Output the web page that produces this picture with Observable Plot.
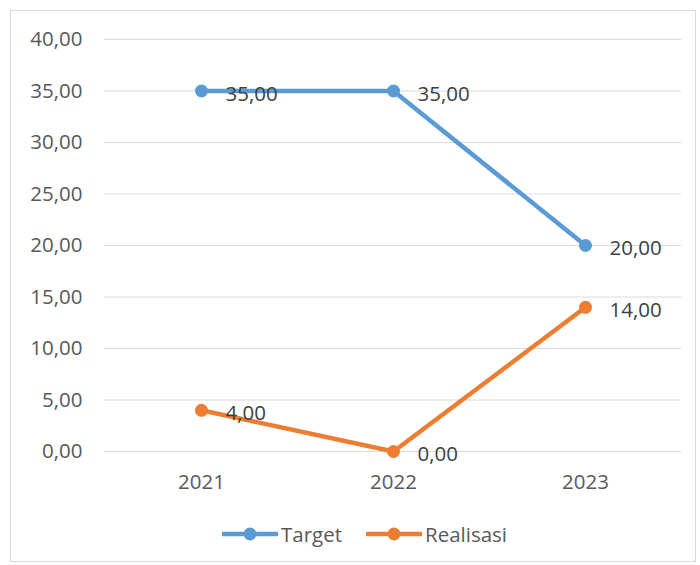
<!DOCTYPE html>
<html>
<head>
<meta charset="utf-8">
<script src="https://cdn.jsdelivr.net/npm/d3@7"></script>
<script src="https://cdn.jsdelivr.net/npm/@observablehq/plot@0.6"></script>
<style>
  html, body { margin: 0; padding: 0; background: #fff; }
  #wrap { position: relative; width: 700px; height: 565px; overflow: hidden; font-family: "Open Sans", sans-serif; }
  #border { position: absolute; left: 10px; top: 10px; width: 686px; height: 552px; border: 1px solid #d9d9d9; box-sizing: border-box; }
  #chart { position: absolute; left: 0; top: 0; }
  #legend { position: absolute; top: 520px; left: 222px; display: flex; align-items: center; font-size: 20.5px; color: #595959; }
  .item { display: flex; align-items: center; margin-right: 24px; }
  .item svg { margin-right: 3px; }
</style>
</head>
<body>
<div id="wrap">
  <div id="border"></div>
  <div id="chart"></div>
  <div id="legend"></div>
</div>
<script>
const years = ["2021", "2022", "2023"];
const target = [35, 35, 20];
const realisasi = [4, 0, 14];
const seriesNames = ["Target", "Realisasi"];
const seriesColors = ["#5B9BD5", "#ED7D31"];
const yTicks = [0, 5, 10, 15, 20, 25, 30, 35, 40];

const fmt = v => d3.format(".2f")(v).replace(".", ",");

const rows = [];
years.forEach((y, i) => {
  rows.push({year: y, value: target[i], series: "Target"});
});
years.forEach((y, i) => {
  rows.push({year: y, value: realisasi[i], series: "Realisasi"});
});

const chart = Plot.plot({
  width: 700,
  height: 500,
  marginLeft: 104,
  marginRight: 19,
  marginTop: 39,
  marginBottom: 49,
  style: {fontFamily: "'Open Sans', sans-serif", fontSize: "20.5px", color: "#595959", background: "transparent"},
  x: {type: "point", domain: years, padding: 0.5, label: null},
  y: {domain: [0, 40], label: null},
  color: {domain: seriesNames, range: seriesColors},
  marks: [
    Plot.ruleY(yTicks, {stroke: "#d9d9d9", strokeWidth: 1}),
    Plot.axisY({ticks: yTicks, tickFormat: fmt, tickSize: 0, tickPadding: 22, label: null, fill: "#595959"}),
    Plot.axisX({tickSize: 0, tickPadding: 23, label: null, fill: "#595959"}),
    Plot.line(rows, {x: "year", y: "value", z: "series", stroke: "series", strokeWidth: 4.5, strokeLinejoin: "round", strokeLinecap: "round"}),
    Plot.dot(rows, {x: "year", y: "value", fill: "series", r: 6.5}),
    Plot.text(rows, {x: "year", y: "value", text: d => fmt(d.value), textAnchor: "start", dx: 24, dy: 3, fill: "#404040", fontSize: 20.5})
  ]
});
document.getElementById("chart").appendChild(chart);

const legend = document.getElementById("legend");
seriesNames.forEach((name, i) => {
  const item = document.createElement("div");
  item.className = "item";
  item.innerHTML = `<svg width="56" height="16"><line x1="1" y1="8" x2="55" y2="8" stroke="${seriesColors[i]}" stroke-width="4.5" stroke-linecap="round"/><circle cx="28" cy="8" r="6.5" fill="${seriesColors[i]}"/></svg><span>${name}</span>`;
  legend.appendChild(item);
});
</script>
</body>
</html>
